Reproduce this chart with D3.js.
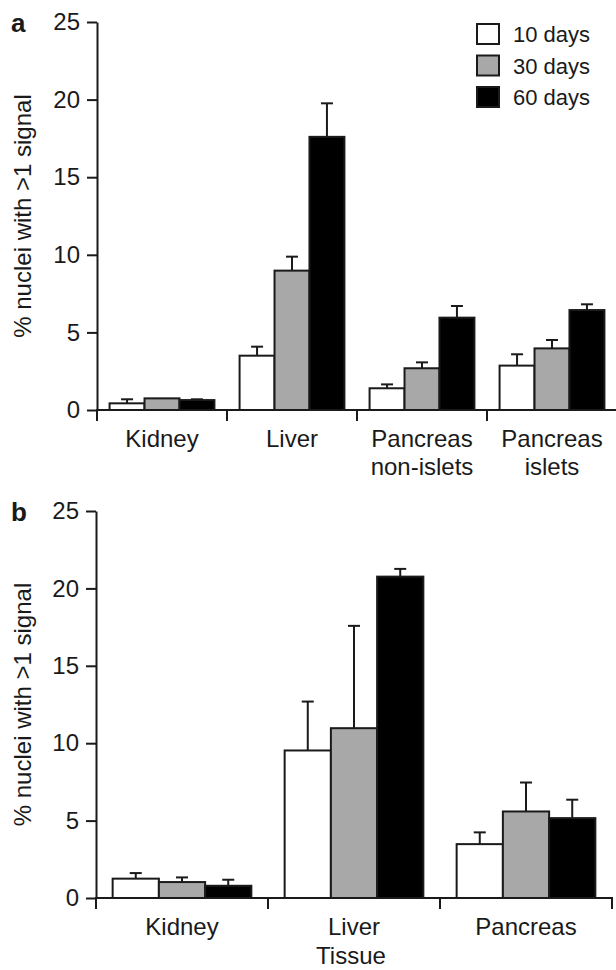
<!DOCTYPE html>
<html>
<head>
<meta charset="utf-8">
<script src="https://cdn.jsdelivr.net/npm/d3@7"></script>
<style>
  body { margin: 0; background: #fff; }
  svg { display: block; font-family: "Liberation Sans", Arial, sans-serif; }
</style>
</head>
<body>
<svg id="chart" width="616" height="970"></svg>
<script>
// series + colours
const seriesNames = ["10 days", "30 days", "60 days"];
const seriesFill = ["#ffffff", "#a8a8a8", "#000000"];
const yTicks = [0, 5, 10, 15, 20, 25];

// panel a
const tissuesA = ["Kidney", "Liver", "Pancreas\nnon-islets", "Pancreas\nislets"];
const a10 = [0.43, 3.5, 1.4, 2.86];
const a10Err = [0.26, 0.58, 0.25, 0.73];
const a30 = [0.75, 8.98, 2.69, 3.97];
const a30Err = [0, 0.9, 0.38, 0.54];
const a60 = [0.64, 17.6, 5.95, 6.44];
const a60Err = [0.05, 2.16, 0.75, 0.37];

// panel b
const tissuesB = ["Kidney", "Liver", "Pancreas"];
const b10 = [1.25, 9.53, 3.48];
const b10Err = [0.36, 3.16, 0.76];
const b30 = [1.03, 10.97, 5.59];
const b30Err = [0.3, 6.61, 1.87];
const b60 = [0.79, 20.76, 5.16];
const b60Err = [0.39, 0.5, 1.19];

const svg = d3.select("#chart");
const ink = "#1a1a1a";

function drawPanel(opts) {
  const { letter, cats, vals, errs, left, right, top, bottom } = opts;
  const g = svg.append("g");

  const y = d3.scaleLinear().domain([0, 25]).range([bottom, top]);
  const x0 = d3.scaleBand().domain(cats).range([left, right]).padding(0);
  const x1 = d3.scaleBand().domain(seriesNames).range([0, x0.bandwidth()])
    .paddingInner(0).paddingOuter(0.36);

  // bars
  seriesNames.forEach((s, si) => {
    const rows = cats.map((c, ci) => ({ c, v: vals[si][ci], e: errs[si][ci] }));
    const sg = g.append("g");
    // error bars (upper half only)
    sg.selectAll("line.err").data(rows.filter(d => d.e > 0)).enter().append("line")
      .attr("x1", d => x0(d.c) + x1(s) + x1.bandwidth() / 2)
      .attr("x2", d => x0(d.c) + x1(s) + x1.bandwidth() / 2)
      .attr("y1", d => y(d.v))
      .attr("y2", d => y(d.v + d.e))
      .attr("stroke", ink).attr("stroke-width", 2);
    sg.selectAll("line.cap").data(rows.filter(d => d.e > 0)).enter().append("line")
      .attr("x1", d => x0(d.c) + x1(s) + x1.bandwidth() / 2 - 6)
      .attr("x2", d => x0(d.c) + x1(s) + x1.bandwidth() / 2 + 6)
      .attr("y1", d => y(d.v + d.e))
      .attr("y2", d => y(d.v + d.e))
      .attr("stroke", ink).attr("stroke-width", 2);
    sg.selectAll("rect").data(rows).enter().append("rect")
      .attr("x", d => x0(d.c) + x1(s))
      .attr("y", d => y(d.v))
      .attr("width", x1.bandwidth())
      .attr("height", d => y(0) - y(d.v))
      .attr("fill", seriesFill[si])
      .attr("stroke", ink).attr("stroke-width", 2);
  });

  // y axis
  const yAxis = g.append("g")
    .attr("transform", `translate(${left},0)`)
    .call(d3.axisLeft(y).tickValues(yTicks).tickSize(10).tickPadding(7).tickSizeOuter(0));
  yAxis.select(".domain").attr("stroke", ink).attr("stroke-width", 2);
  yAxis.selectAll(".tick line").attr("stroke", ink).attr("stroke-width", 2);
  yAxis.selectAll(".tick text").attr("font-size", 24).attr("fill", ink)
    .attr("font-family", "Liberation Sans, Arial, sans-serif");

  // x axis: baseline with ticks at category boundaries
  const bounds = cats.map(c => x0(c)).concat([right]);
  g.append("line").attr("x1", left).attr("x2", right)
    .attr("y1", y(0)).attr("y2", y(0)).attr("stroke", ink).attr("stroke-width", 2);
  g.selectAll("line.xt").data(bounds).enter().append("line")
    .attr("x1", d => d).attr("x2", d => d)
    .attr("y1", y(0) - 1).attr("y2", y(0) + 11)
    .attr("stroke", ink).attr("stroke-width", 2);

  // category labels
  const lab = g.selectAll("text.cat").data(cats).enter().append("text")
    .attr("text-anchor", "middle").attr("font-size", 24).attr("fill", ink)
    .attr("transform", d => `translate(${x0(d) + x0.bandwidth() / 2},${y(0) + 37})`);
  lab.selectAll("tspan").data(d => d.split("\n")).enter().append("tspan")
    .attr("x", 0).attr("dy", (d, i) => i === 0 ? 0 : 28).text(d => d);

  // y title
  g.append("text")
    .attr("transform", `translate(31,${(top + bottom) / 2}) rotate(-90)`)
    .attr("text-anchor", "middle").attr("font-size", 24).attr("fill", ink)
    .text("% nuclei with >1 signal");

  // panel letter
  g.append("text").attr("x", 11).attr("y", top + 10)
    .attr("font-size", 26).attr("font-weight", "bold").attr("fill", ink).text(letter);

  return g;
}

drawPanel({
  letter: "a", cats: tissuesA,
  vals: [a10, a30, a60], errs: [a10Err, a30Err, a60Err],
  left: 97, right: 617, top: 22, bottom: 410
});

const gb = drawPanel({
  letter: "b", cats: tissuesB,
  vals: [b10, b30, b60], errs: [b10Err, b30Err, b60Err],
  left: 96, right: 612, top: 511, bottom: 898
});

gb.append("text").attr("x", 351).attr("y", 964).attr("text-anchor", "middle")
  .attr("font-size", 24).attr("fill", ink).text("Tissue");

// legend
const leg = svg.append("g").attr("transform", "translate(477,24)");
const li = leg.selectAll("g").data(seriesNames).enter().append("g")
  .attr("transform", (d, i) => `translate(0,${i * 31.5})`);
li.append("rect").attr("width", 22).attr("height", 20)
  .attr("fill", (d, i) => seriesFill[i]).attr("stroke", ink).attr("stroke-width", 2);
li.append("text").attr("x", 36).attr("y", 18).attr("font-size", 22).attr("fill", ink)
  .text(d => d);
</script>
</body>
</html>
